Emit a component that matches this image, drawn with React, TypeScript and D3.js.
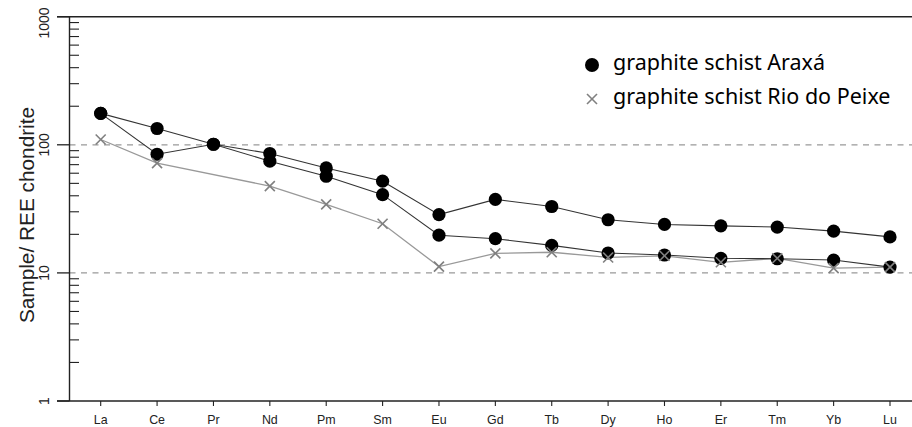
import React from 'react';
import * as d3 from 'd3';

// Rare earth elements along the x axis
const elements = ['La', 'Ce', 'Pr', 'Nd', 'Pm', 'Sm', 'Eu', 'Gd', 'Tb', 'Dy', 'Ho', 'Er', 'Tm', 'Yb', 'Lu'];

// Chondrite-normalised values (two Araxá samples, one Rio do Peixe sample)
const araxaA = [176, 134, 101, 85.5, 66, 52, 28.5, 37.5, 33, 26, 23.9, 23.3, 22.8, 21.2, 19.1];
const araxaB = [176, 84.4, 101, 74.5, 56.8, 40.8, 19.7, 18.5, 16.4, 14.3, 13.8, 13.0, 12.9, 12.6, 11.1];
const rioDoPeixe: (number | null)[] = [110, 72, null, 47.6, 34.3, 24.2, 11.2, 14.2, 14.5, 13.2, 13.6, 12.1, 13.0, 10.9, 11.1];

const yTickLabels = [1, 10, 100, 1000];
const guideValues = [10, 100];
const legendLabels = ['graphite schist Araxá', 'graphite schist Rio do Peixe'];

const W = 912;
const H = 427;
const AXIS_X = 69.5;
const AXIS_Y = 401;
const TOP_Y = 16.7;

const x = d3.scalePoint<string>().domain(elements).range([100.7, 890]);
const y = d3.scaleLog().domain([1, 1000]).range([AXIS_Y, TOP_Y]);

type Pt = { el: string; v: number };
const toPts = (vals: (number | null)[]): Pt[] =>
  vals.map((v, i) => ({ el: elements[i], v: v as number })).filter((p) => p.v != null);

const line = d3
  .line<Pt>()
  .x((p) => x(p.el) as number)
  .y((p) => y(p.v));

const Cross = ({ cx, cy, s, color }: { cx: number; cy: number; s: number; color: string }) => (
  <g stroke={color} strokeWidth={1.6}>
    <line x1={cx - s} y1={cy - s} x2={cx + s} y2={cy + s} />
    <line x1={cx - s} y1={cy + s} x2={cx + s} y2={cy - s} />
  </g>
);

const SANS = "'Liberation Sans', Arial, sans-serif";
const LEGEND_FONT = "'Noto Sans', 'Open Sans', sans-serif";

export default function App() {
  const araxaSeries = [toPts(araxaA), toPts(araxaB)];
  const rioPts = toPts(rioDoPeixe);
  const allTicks = y.ticks();

  return (
    <svg width={W} height={H} style={{ position: 'absolute', left: 0, top: 0, background: '#fff' }}>
      {/* dashed guides at 10 and 100 */}
      {guideValues.map((v) => (
        <line
          key={v}
          x1={AXIS_X}
          x2={W}
          y1={y(v)}
          y2={y(v)}
          stroke="#999"
          strokeWidth={1.3}
          strokeDasharray="6 5.5"
        />
      ))}

      {/* frame: top line, x axis, y axis */}
      <line x1={57} x2={W} y1={TOP_Y} y2={TOP_Y} stroke="#222" strokeWidth={1.4} />
      <line x1={57} x2={W} y1={AXIS_Y} y2={AXIS_Y} stroke="#222" strokeWidth={1.4} />
      <line x1={AXIS_X} x2={AXIS_X} y1={TOP_Y} y2={AXIS_Y} stroke="#222" strokeWidth={1.4} />

      {/* y ticks: major outward, minor inward */}
      {allTicks.map((t) => {
        const major = Math.abs(Math.log10(t) - Math.round(Math.log10(t))) < 1e-9;
        return major ? (
          <line key={t} x1={57} x2={AXIS_X} y1={y(t)} y2={y(t)} stroke="#222" strokeWidth={1.3} />
        ) : (
          <line key={t} x1={AXIS_X} x2={79} y1={y(t)} y2={y(t)} stroke="#222" strokeWidth={1.1} />
        );
      })}
      {yTickLabels.map((t) => {
        const cy = Math.max(y(t), 23);
        return (
          <text
            key={t}
            transform={`translate(48.5,${cy}) rotate(-90)`}
            textAnchor="middle"
            fontFamily={SANS}
            fontSize={14}
            fill="#222"
          >
            {t}
          </text>
        );
      })}
      <text
        transform={`translate(33.5,${215}) rotate(-90)`}
        textAnchor="middle"
        fontFamily={SANS}
        fontSize={20.8}
        fill="#222"
      >
        Sample/ REE chondrite
      </text>

      {/* x ticks and labels */}
      {elements.map((el) => (
        <g key={el}>
          <line x1={x(el)} x2={x(el)} y1={AXIS_Y} y2={AXIS_Y + 5} stroke="#222" strokeWidth={1.1} />
          <text
            transform={`translate(${x(el)},424) scale(0.92,1)`}
            textAnchor="middle"
            fontFamily={SANS}
            fontSize={13.5}
            fill="#222"
          >
            {el}
          </text>
        </g>
      ))}

      {/* series lines */}
      <path d={line(rioPts) ?? ''} fill="none" stroke="#999" strokeWidth={1.3} />
      {araxaSeries.map((pts, i) => (
        <path key={i} d={line(pts) ?? ''} fill="none" stroke="#333" strokeWidth={1.1} />
      ))}

      {/* markers */}
      {araxaSeries.map((pts, i) =>
        pts.map((p) => <circle key={`${i}-${p.el}`} cx={x(p.el)} cy={y(p.v)} r={6.6} fill="#000" />)
      )}
      {rioPts.map((p) => (
        <Cross key={p.el} cx={x(p.el) as number} cy={y(p.v)} s={5} color="#808080" />
      ))}

      {/* legend */}
      <circle cx={592} cy={65} r={7} fill="#000" />
      <text x={613} y={69.5} fontFamily={LEGEND_FONT} fontSize={21.5} fill="#000">
        {legendLabels[0]}
      </text>
      <Cross cx={592} cy={99} s={5} color="#808080" />
      <text x={613} y={103.5} fontFamily={LEGEND_FONT} fontSize={21.5} fill="#000">
        {legendLabels[1]}
      </text>
    </svg>
  );
}
